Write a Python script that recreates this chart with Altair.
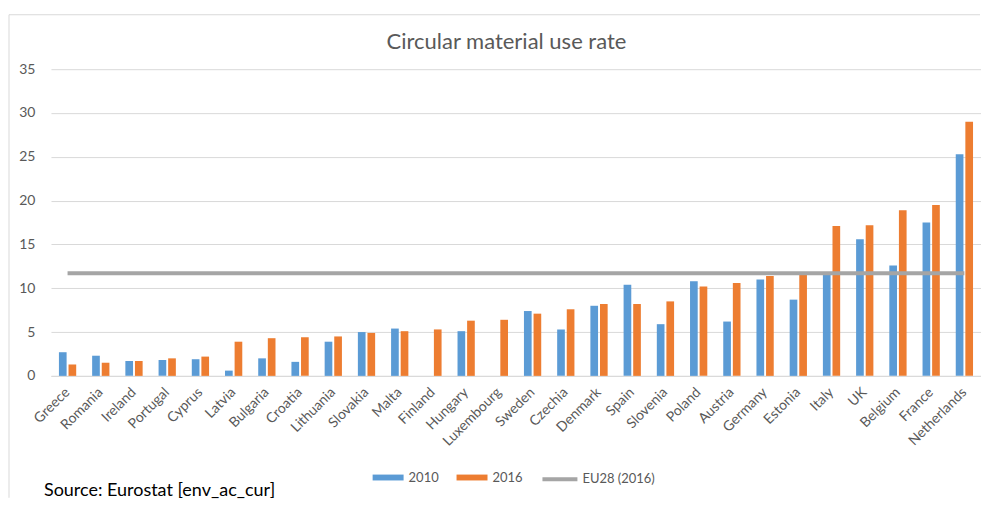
import altair as alt
import pandas as pd

countries = ["Greece", "Romania", "Ireland", "Portugal", "Cyprus", "Latvia", "Bulgaria",
             "Croatia", "Lithuania", "Slovakia", "Malta", "Finland", "Hungary", "Luxembourg",
             "Sweden", "Czechia", "Denmark", "Spain", "Slovenia", "Poland", "Austria",
             "Germany", "Estonia", "Italy", "UK", "Belgium", "France", "Netherlands"]
v2010 = [2.7, 2.3, 1.7, 1.8, 1.9, 0.6, 2.0, 1.6, 3.9, 5.0, 5.4, None, 5.1, None,
         7.4, 5.3, 8.0, 10.4, 5.9, 10.8, 6.2, 11.0, 8.7, 11.6, 15.6, 12.6, 17.5, 25.3]
v2016 = [1.3, 1.5, 1.7, 2.0, 2.2, 3.9, 4.3, 4.4, 4.5, 4.9, 5.1, 5.3, 6.3, 6.4,
         7.1, 7.6, 8.2, 8.2, 8.5, 10.2, 10.6, 11.4, 11.6, 17.1, 17.2, 18.9, 19.5, 29.0]
eu28_value = 11.7
eu28_label = "EU28 (2016)"
years = ["2010", "2016"]
title_text = "Circular material use rate"
source_text = "Source: Eurostat [env_ac_cur]"

BLUE, ORANGE, GRAY = "#5b9bd5", "#ed7d31", "#a5a5a5"
GRID, LABEL = "#d9d9d9", "#595959"
FONT = "Lato"
W, H = 931, 307

rows = []
for c, a, b in zip(countries, v2010, v2016):
    rows.append({"country": c, "year": "2010", "value": a})
    rows.append({"country": c, "year": "2016", "value": b})
bars_df = pd.DataFrame(rows)
line_df = pd.DataFrame({"country": countries, "value": [eu28_value] * len(countries),
                        "series": [eu28_label] * len(countries)})

x_enc = alt.X("country:N", sort=countries,
              scale=alt.Scale(paddingInner=0.48, paddingOuter=0.24),
              axis=alt.Axis(title=None, labelAngle=-45, labelAlign="right", labelBaseline="middle",
                            labelFont=FONT, labelFontSize=14, labelColor=LABEL, labelPadding=14,
                            ticks=False, domainColor=GRID, domainWidth=1, grid=False,
                            labelOverlap=False))
y_enc = alt.Y("value:Q", scale=alt.Scale(domain=[0, 35], nice=False),
              axis=alt.Axis(title=None, values=list(range(0, 36, 5)), grid=True, gridColor=GRID,
                            gridWidth=1, domain=False, ticks=False, labelPadding=16,
                            labelFont=FONT, labelFontSize=14, labelColor=LABEL))

bars = alt.Chart(bars_df).mark_bar().encode(
    x=x_enc,
    y=y_enc,
    xOffset=alt.XOffset("year:N", scale=alt.Scale(paddingInner=0.2)),
    color=alt.Color("year:N", scale=alt.Scale(domain=years, range=[BLUE, ORANGE]),
                    legend=alt.Legend(orient="none", legendX=322, legendY=393, direction="horizontal",
                                      title=None, symbolType="M-1,-0.19L1,-0.19L1,0.19L-1,0.19Z",
                                      symbolSize=961, symbolStrokeWidth=0, symbolOpacity=1,
                                      labelFont=FONT, labelFontSize=13, labelColor=LABEL,
                                      labelOffset=5, columnPadding=17)),
)

line = alt.Chart(line_df).mark_line(strokeWidth=4).encode(
    x=alt.X("country:N", sort=countries),
    y=alt.Y("value:Q"),
    stroke=alt.Stroke("series:N", scale=alt.Scale(domain=[eu28_label], range=[GRAY]),
                      legend=alt.Legend(orient="none", legendX=490, legendY=391, title=None,
                                        symbolType="stroke", symbolSize=1225, symbolStrokeWidth=4,
                                        labelFont=FONT, labelFontSize=13, labelColor=LABEL,
                                        labelOffset=3)),
)

one = pd.DataFrame({"a": [0]})
top_rule = alt.Chart(one).mark_rule(color=GRID, strokeWidth=1).encode(
    x=alt.value(-42), x2=alt.value(W - 1), y=alt.value(-54.5))
left_rule = alt.Chart(one).mark_rule(color=GRID, strokeWidth=1).encode(
    x=alt.value(-42), y=alt.value(-54.5), y2=alt.value(429))
title = alt.Chart(pd.DataFrame({"t": [title_text]})).mark_text(
    align="center", baseline="alphabetic", font=FONT, fontSize=22, color=LABEL
).encode(text="t:N", x=alt.value(456), y=alt.value(-20))
source = alt.Chart(pd.DataFrame({"t": [source_text]})).mark_text(
    align="left", baseline="alphabetic", font=FONT, fontSize=18, color="black"
).encode(text="t:N", x=alt.value(-7), y=alt.value(427))

chart = alt.layer(bars, line, top_rule, left_rule, title, source).properties(
    width=W, height=H,
    padding={"left": 0, "top": 6, "right": 0, "bottom": 0},
).configure_view(stroke=None)

chart.save("out.html", embed_options={"renderer": "svg", "actions": False})
